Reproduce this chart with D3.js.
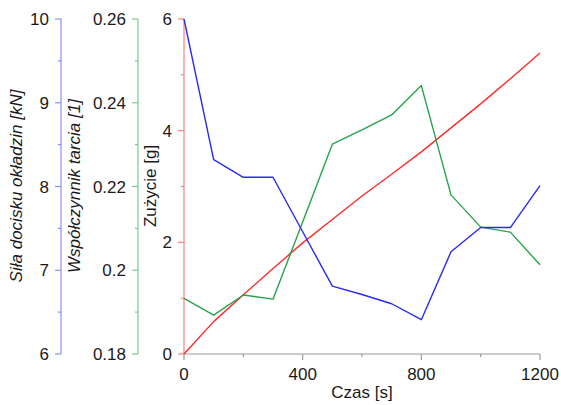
<!DOCTYPE html>
<html lang="pl">
<head>
<meta charset="UTF-8">
<title>Zużycie okładzin</title>
<script src="https://d3js.org/d3.v7.min.js"></script>
<style>
    body { margin: 0; background: #fff; }
    svg text { font-family: "Liberation Sans", Arial, sans-serif; fill: #1a1a1a; }
</style>
</head>
<body>
<svg width="561" height="405"></svg>
<script>
    // czas [s]
    const czas = [0, 100, 200, 300, 400, 500, 600, 700, 800, 900, 1000, 1100, 1200];
    // siła docisku okładzin [kN]
    const sila = [10, 8.32, 8.11, 8.11, 7.46, 6.81, 6.71, 6.60, 6.41, 7.22, 7.51, 7.51, 8.01];
    // współczynnik tarcia [1]
    const tarcie = [0.1933, 0.1893, 0.1941, 0.1931, 0.2115, 0.2301, 0.2335, 0.2371, 0.2441, 0.218, 0.2103, 0.2091, 0.2013];
    // zużycie [g]
    const zuzycie = [0, 0.58, 1.06, 1.53, 1.99, 2.41, 2.83, 3.22, 3.62, 4.05, 4.48, 4.93, 5.39];

    const xTicks = [0, 400, 800, 1200];
    const silaTicks = [6, 7, 8, 9, 10];
    const tarcieTicks = [0.18, 0.2, 0.22, 0.24, 0.26];
    const zuzycieTicks = [0, 2, 4, 6];

    const svg = d3.select("svg");
    const plotLeft = 184, plotRight = 540, plotTop = 19, plotBottom = 354;

    const x = d3.scaleLinear().domain([0, 1200]).range([plotLeft, plotRight]);
    const yS = d3.scaleLinear().domain([6, 10]).range([plotBottom, plotTop]);
    const yT = d3.scaleLinear().domain([0.18, 0.26]).range([plotBottom, plotTop]);
    const yZ = d3.scaleLinear().domain([0, 6]).range([plotBottom, plotTop]);

    // y axis helper: line + major/minor ticks to the left
    function yAxis(xPos, scale, ticks, minor, color, fmt) {
        const g = svg.append("g").attr("transform", `translate(${xPos},0)`);
        g.append("line").attr("y1", scale.range()[0]).attr("y2", scale.range()[1])
            .attr("stroke", color).attr("stroke-width", 1.2);
        g.selectAll(".maj").data(ticks).enter().append("line")
            .attr("x1", -6).attr("x2", 0)
            .attr("y1", d => scale(d)).attr("y2", d => scale(d))
            .attr("stroke", color).attr("stroke-width", 1.2);
        g.selectAll(".min").data(minor).enter().append("line")
            .attr("x1", -3).attr("x2", 0)
            .attr("y1", d => scale(d)).attr("y2", d => scale(d))
            .attr("stroke", color).attr("stroke-width", 1.2);
        g.selectAll("text").data(ticks).enter().append("text")
            .attr("x", -12).attr("y", d => scale(d)).attr("dy", "0.36em")
            .attr("text-anchor", "end").style("font-size", "17px")
            .text(fmt);
    }

    yAxis(61, yS, silaTicks, [6.5, 7.5, 8.5, 9.5], "#8c8cff", d => d);
    yAxis(138, yT, tarcieTicks, [0.19, 0.21, 0.23, 0.25], "#7cc890", d => +d.toFixed(2));
    yAxis(184, yZ, zuzycieTicks, [1, 3, 5], "#ff7f7f", d => d);

    // x axis
    const gx = svg.append("g").attr("transform", `translate(0,${plotBottom})`);
    gx.append("line").attr("x1", plotLeft).attr("x2", plotRight).attr("stroke", "#9a9a9a").attr("stroke-width", 1.2);
    gx.selectAll(".maj").data(xTicks).enter().append("line")
        .attr("x1", d => x(d)).attr("x2", d => x(d)).attr("y1", 0).attr("y2", 6)
        .attr("stroke", "#9a9a9a").attr("stroke-width", 1.2);
    gx.selectAll(".min").data([200, 600, 1000]).enter().append("line")
        .attr("x1", d => x(d)).attr("x2", d => x(d)).attr("y1", 0).attr("y2", 3)
        .attr("stroke", "#9a9a9a").attr("stroke-width", 1.2);
    gx.selectAll("text").data(xTicks).enter().append("text")
        .attr("x", d => x(d)).attr("y", 20).attr("dy", "0.36em")
        .attr("text-anchor", "middle").style("font-size", "17px").text(d => d);

    // axis titles
    svg.append("text").attr("x", 362).attr("y", 398).attr("text-anchor", "middle")
        .style("font-size", "17px").text("Czas [s]");
    svg.append("text").attr("transform", "translate(22,186) rotate(-90)").attr("text-anchor", "middle")
        .style("font-size", "17px").style("font-style", "italic").text("Siła docisku okładzin [kN]");
    svg.append("text").attr("transform", "translate(80,186) rotate(-90)").attr("text-anchor", "middle")
        .style("font-size", "17px").style("font-style", "italic").text("Współczynnik tarcia [1]");
    svg.append("text").attr("transform", "translate(156,186) rotate(-90)").attr("text-anchor", "middle")
        .style("font-size", "17px").text("Zużycie [g]");

    // series
    function series(vals, scale, color) {
        const line = d3.line().x((d, i) => x(czas[i])).y(d => scale(d));
        svg.append("path").datum(vals).attr("d", line)
            .attr("fill", "none").attr("stroke", color).attr("stroke-width", 1.4)
            .attr("stroke-linejoin", "round");
    }
    series(zuzycie, yZ, "#ff2a2a");
    series(tarcie, yT, "#27a34a");
    series(sila, yS, "#2a2af5");
</script>
</body>
</html>
